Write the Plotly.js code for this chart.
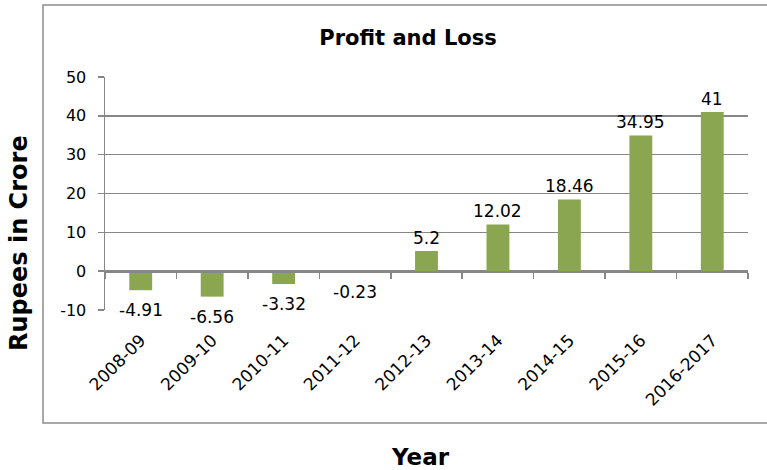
<!DOCTYPE html>
<html>
<head>
<meta charset="utf-8">
<script src="https://cdn.plot.ly/plotly-3.0.1.min.js"></script>
<style>html,body{margin:0;padding:0;background:#fff;}#chart{width:767px;height:470px;}</style>
</head>
<body>
<div id="chart"></div>
<script>
var years = ["2008-09","2009-10","2010-11","2011-12","2012-13","2013-14","2014-15","2015-16","2016-2017"];
var profit = [-4.91, -6.56, -3.32, -0.23, 5.2, 12.02, 18.46, 34.95, 41];
var labels = ["-4.91","-6.56","-3.32","-0.23","5.2","12.02","18.46","34.95","41"];
var yTicks = [-10, 0, 10, 20, 30, 40, 50];

var barColor = "#8ba650";
var gridColor = "#878787";

var traces = [
  {
    type: "bar",
    x: years,
    y: profit,
    marker: {color: barColor},
    hoverinfo: "x+y"
  },
  {
    type: "scatter",
    mode: "markers",
    x: years,
    y: profit,
    xaxis: "x2",
    yaxis: "y",
    marker: {opacity: 0},
    hoverinfo: "skip",
    showlegend: false
  }
];

var dataLabels = years.map(function (yr, i) {
  var neg = profit[i] < 0;
  return {
    xref: "x", yref: "y", x: yr, y: profit[i], text: labels[i],
    showarrow: false, xanchor: "center",
    yanchor: neg ? "top" : "bottom",
    yshift: neg ? -8 : 1,
    font: {family: "DejaVu Sans", size: 17, color: "#000"}
  };
});

var layout = {
  width: 767,
  height: 470,
  paper_bgcolor: "#fff",
  plot_bgcolor: "#fff",
  showlegend: false,
  bargap: 0.68,
  margin: {l: 105, r: 19, t: 77, b: 160},
  title: {
    text: "<b>Profit and Loss</b>",
    font: {family: "DejaVu Sans", size: 21, color: "#000"},
    x: 0.532, xanchor: "center",
    y: 1 - 38/470, yanchor: "middle",
    xref: "container", yref: "container"
  },
  xaxis: {
    type: "category",
    range: [-0.5, 8.5],
    showgrid: false,
    showline: false,
    zeroline: false,
    ticks: "",
    tickangle: -45,
    ticklabelstandoff: 16,
    tickfont: {family: "DejaVu Sans", size: 17, color: "#000"},
    automargin: false
  },
  xaxis2: {
    type: "category",
    overlaying: "x",
    matches: "x",
    anchor: "free",
    position: 10/60,
    side: "bottom",
    showgrid: false,
    showline: true,
    linecolor: gridColor,
    linewidth: 1.5,
    ticks: "outside",
    tickson: "boundaries",
    ticklen: 6,
    tickcolor: gridColor,
    tickwidth: 1.5,
    showticklabels: false,
    zeroline: false
  },
  yaxis: {
    range: [-10, 50],
    tickvals: yTicks,
    ticktext: yTicks.map(String),
    showgrid: true,
    gridcolor: gridColor,
    gridwidth: 1.5,
    zeroline: false,
    showline: true,
    linecolor: gridColor,
    linewidth: 1.5,
    ticks: "outside",
    ticklen: 6,
    tickcolor: gridColor,
    tickwidth: 1.5,
    ticklabelstandoff: 8,
    tickfont: {family: "DejaVu Sans", size: 16, color: "#000"},
    automargin: false,
    fixedrange: true
  },
  shapes: [
    {type: "rect", xref: "paper", yref: "paper",
     x0: (43-105)/643, x1: 1.2, y0: (310-423)/233, y1: (310-5)/233,
     line: {color: "#8c8c8c", width: 1.5}, fillcolor: "rgba(0,0,0,0)", layer: "below"}
  ],
  annotations: [
    {text: "<b>Rupees in Crore</b>", xref: "paper", yref: "paper",
     x: (19-105)/643, y: (310-243)/233, xanchor: "center", yanchor: "middle",
     textangle: -90, showarrow: false,
     font: {family: "DejaVu Sans", size: 24, color: "#000"}},
    {text: "<b>Year</b>", xref: "paper", yref: "paper",
     x: (420-105)/643, y: (310-457)/233, xanchor: "center", yanchor: "middle",
     showarrow: false,
     font: {family: "DejaVu Sans", size: 23, color: "#000"}}
  ].concat(dataLabels)
};

Plotly.newPlot("chart", traces, layout, {displayModeBar: false, staticPlot: true});
</script>
</body>
</html>
